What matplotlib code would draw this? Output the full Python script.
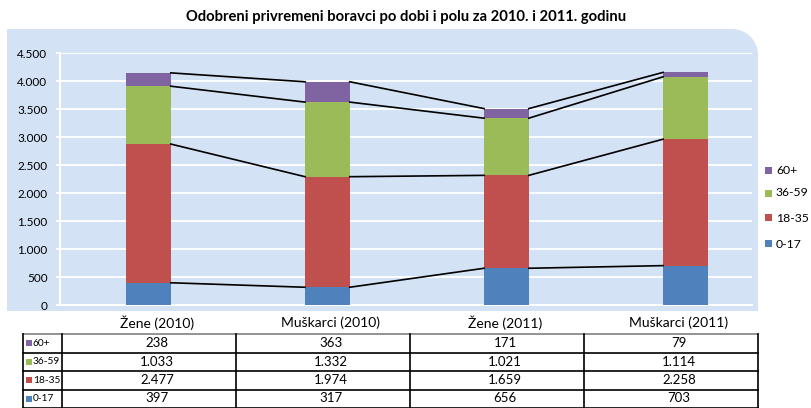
import matplotlib
matplotlib.use('Agg')
import matplotlib.pyplot as plt
from matplotlib.path import Path
from matplotlib.patches import PathPatch, Rectangle
from matplotlib.lines import Line2D
import numpy as np

plt.rcParams['font.family'] = ['Lato', 'DejaVu Sans']

categories = ['Žene (2010)', 'Muškarci (2010)', 'Žene (2011)', 'Muškarci (2011)']
age_groups = ['0-17', '18-35', '36-59', '60+']
age_0_17 = [397, 317, 656, 703]
age_18_35 = [2477, 1974, 1659, 2258]
age_36_59 = [1033, 1332, 1021, 1114]
age_60 = [238, 363, 171, 79]
series = [age_0_17, age_18_35, age_36_59, age_60]
colors = ['#4F81BD', '#C0504D', '#9BBB59', '#8064A2']
y_ticks = [0, 500, 1000, 1500, 2000, 2500, 3000, 3500, 4000, 4500]
title = 'Odobreni privremeni boravci po dobi i polu za 2010. i 2011. godinu'

W, H = 812, 408
fig = plt.figure(figsize=(W / 100, H / 100), dpi=100)


def fx(px):
    return px / W


def fy(py):
    return 1 - py / H


def fmt(v):
    return f"{v:,}".replace(',', '.')


# light blue panel, only top-right corner rounded
L, T, R, B, r = 7, 29, 758, 311, 26
k = 0.5523 * r
verts = [(L, B), (L, T), (R - r, T), (R - r + k, T), (R, T + r - k), (R, T + r), (R, B), (L, B)]
codes = [Path.MOVETO, Path.LINETO, Path.LINETO, Path.CURVE4, Path.CURVE4, Path.CURVE4,
         Path.LINETO, Path.CLOSEPOLY]
panel = PathPatch(Path([(fx(a), fy(b)) for a, b in verts], codes),
                  transform=fig.transFigure, facecolor='#D3E2F4', edgecolor='none', zorder=-10)
fig.add_artist(panel)

fig.text(fx(406), fy(17), title, ha='center', va='center', fontsize=10.6, fontweight='bold')

ax = fig.add_axes([fx(60), fy(305), fx(752) - fx(60), fy(53) - fy(305)])
ax.set_facecolor('none')

x = np.arange(len(categories))
w = 0.25
bottom = np.zeros(len(categories))
for vals, c in zip(series, colors):
    ax.bar(x, vals, w, bottom=bottom, color=c, edgecolor='none', zorder=3)
    top = bottom + np.array(vals)
    for i in range(len(x) - 1):
        ax.plot([x[i] + w / 2, x[i + 1] - w / 2], [top[i], top[i + 1]], color='black', lw=1.2, zorder=4)
    bottom = top

ax.set_xlim(-0.494, 3.372)
ax.set_ylim(0, 4500)
ax.set_yticks(y_ticks)
ax.set_yticklabels([fmt(v) for v in y_ticks], fontsize=8.5)
ax.set_xticks([])
ax.grid(axis='y', color='white', lw=1.3, zorder=1)
for s in ['top', 'right']:
    ax.spines[s].set_visible(False)
for s in ['left', 'bottom']:
    ax.spines[s].set_color('white')
    ax.spines[s].set_linewidth(1.5)
ax.tick_params(axis='y', length=3, color='white', width=1.3, pad=6)

# legend
leg_y = [244, 218, 193, 170]
for name, c, yy in zip(age_groups, colors, leg_y):
    fig.add_artist(Rectangle((fx(765), fy(yy + 3.5)), fx(7), 7 / H, transform=fig.transFigure,
                             facecolor=c, edgecolor='none'))
    fig.text(fx(776), fy(yy), name, ha='left', va='center', fontsize=8.8)

# data table
col_edges = [23, 62, 236, 410, 584, 758]
row_edges = [334, 352.5, 371, 389.5, 407.5]
off = 8
for i, cat in enumerate(categories):
    cx = (col_edges[i + 1] + col_edges[i + 2]) / 2 + off
    fig.text(fx(cx), fy(323), cat, ha='center', va='center', fontsize=10)

rows = list(zip(age_groups, series, colors))[::-1]
for j, (name, vals, c) in enumerate(rows):
    cy = (row_edges[j] + row_edges[j + 1]) / 2
    fig.add_artist(Rectangle((fx(26), fy(cy + 3)), fx(6), 6 / H, transform=fig.transFigure,
                             facecolor=c, edgecolor='none'))
    fig.text(fx(33), fy(cy), name, ha='left', va='center', fontsize=7.3)
    for i, v in enumerate(vals):
        cx = (col_edges[i + 1] + col_edges[i + 2]) / 2 + off
        fig.text(fx(cx), fy(cy), fmt(v), ha='center', va='center', fontsize=9.5)

for j, yy in enumerate(row_edges):
    fig.add_artist(Line2D([fx(col_edges[0]), fx(col_edges[-1])], [fy(yy), fy(yy)],
                          transform=fig.transFigure, color='#808080' if j == 0 else 'black', lw=1.2))
for xx in col_edges:
    fig.add_artist(Line2D([fx(xx), fx(xx)], [fy(row_edges[0]), fy(row_edges[-1])],
                          transform=fig.transFigure, color='black', lw=1.2))

fig.savefig('out.png', dpi=100)
